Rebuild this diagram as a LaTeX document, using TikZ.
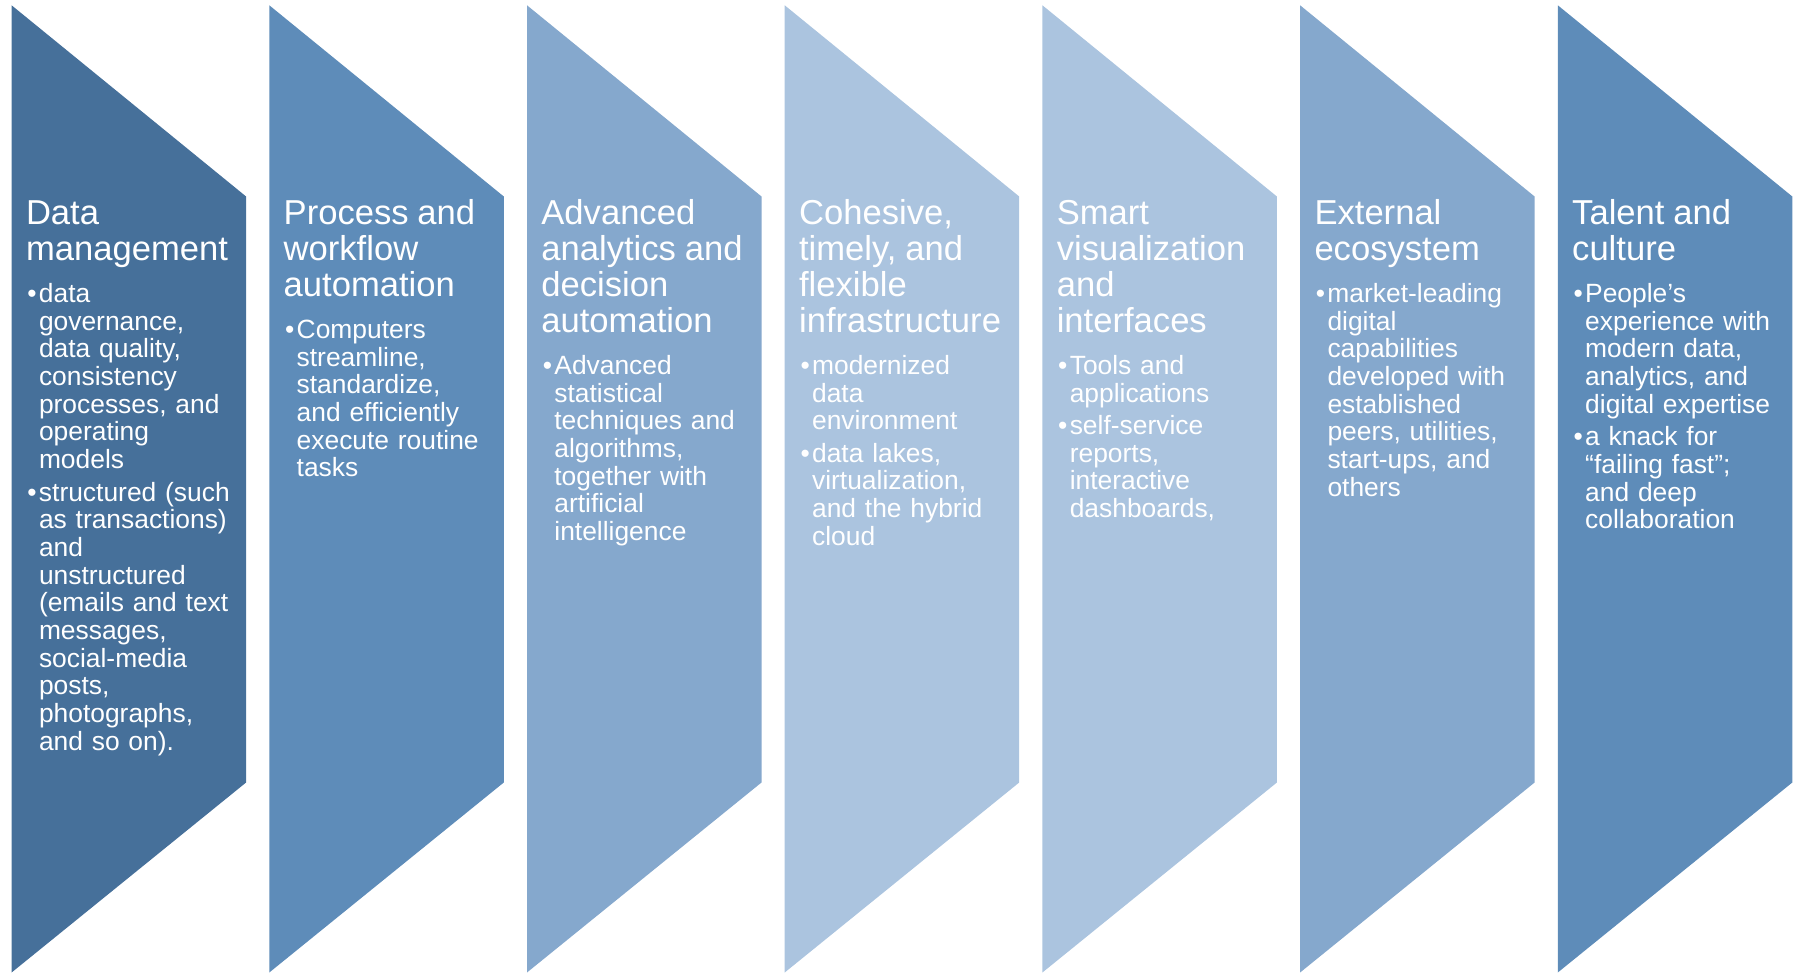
\documentclass[tikz,border=0pt]{standalone}
\usepackage{fontspec}
\setmainfont{Liberation Sans}
\usepackage{tikz}
\usetikzlibrary{positioning}

\definecolor{bluedk}{HTML}{46709A}
\definecolor{bluemd}{HTML}{5E8CB9}
\definecolor{bluelt}{HTML}{85A8CD}
\definecolor{bluepl}{HTML}{ABC4DF}

% line break that keeps the hanging indent of a bullet
\newcommand\nl{\unskip\nobreak\hfil\break}
\newcommand\ttl[1]{{\fontsize{17.3}{18}\selectfont #1\par}\vspace{4.8pt}}
\newcommand\bul[1]{\par\vspace{2.4pt}\hangindent=6.5pt\hangafter=1\noindent
  \hbox to 6.5pt{\kern0.7pt\textbullet\hss}#1\par}

\tikzset{
  coltext/.style={anchor=base west,inner sep=0pt,text width=112pt,align=left,
    text=white,font=\fontsize{13.2}{13.85}\selectfont}
}

\begin{document}
\begin{tikzpicture}[x=0.5pt,y=-0.5pt]
  \useasboundingbox (0,0) rectangle (1796,973);
  % seven banners, left edge straight, pointed to the right
  \foreach \i/\c in {0/bluedk,1/bluemd,2/bluelt,3/bluepl,4/bluepl,5/bluelt,6/bluemd}
    \fill[\c] ({11.6+257.7*\i},5.3) -- ({246.1+257.7*\i},196.5)
      -- ({246.1+257.7*\i},782.5) -- ({11.6+257.7*\i},972.5) -- cycle;

  \node[coltext] (dm) at (25.6,224.3) {\ttl{Data\nl management}
    \bul{data\nl governance,\nl data quality,\nl consistency\nl processes, and\nl operating\nl models}
    \bul{structured (such\nl as transactions)\nl and\nl unstructured\nl (emails and text\nl messages,\nl social-media\nl posts,\nl photographs,\nl and so on).}};
  \node[coltext] (pw) at (283.3,224.3) {\ttl{Process and\nl workflow\nl automation}
    \bul{Computers\nl streamline,\nl standardize,\nl and efficiently\nl execute routine\nl tasks}};
  \node[coltext] (aa) at (541.0,224.3) {\ttl{Advanced\nl analytics and\nl decision\nl automation}
    \bul{Advanced\nl statistical\nl techniques and\nl algorithms,\nl together with\nl artificial\nl intelligence}};
  \node[coltext] (ci) at (798.7,224.3) {\ttl{Cohesive,\nl timely, and\nl flexible\nl infrastructure}
    \bul{modernized\nl data\nl environment}
    \bul{data lakes,\nl virtualization,\nl and the hybrid\nl cloud}};
  \node[coltext] (sv) at (1056.4,224.3) {\ttl{Smart\nl visualization\nl and\nl interfaces}
    \bul{Tools and\nl applications}
    \bul{self-service\nl reports,\nl interactive\nl dashboards,}};
  \node[coltext] (ee) at (1314.1,224.3) {\ttl{External\nl ecosystem}
    \bul{market-leading\nl digital\nl capabilities\nl developed with\nl established\nl peers, utilities,\nl start-ups, and\nl others}};
  \node[coltext] (tc) at (1571.8,224.3) {\ttl{Talent and\nl culture}
    \bul{People’s\nl experience with\nl modern data,\nl analytics, and\nl digital expertise}
    \bul{a knack for\nl “failing fast”;\nl and deep\nl collaboration}};
\end{tikzpicture}
\end{document}
